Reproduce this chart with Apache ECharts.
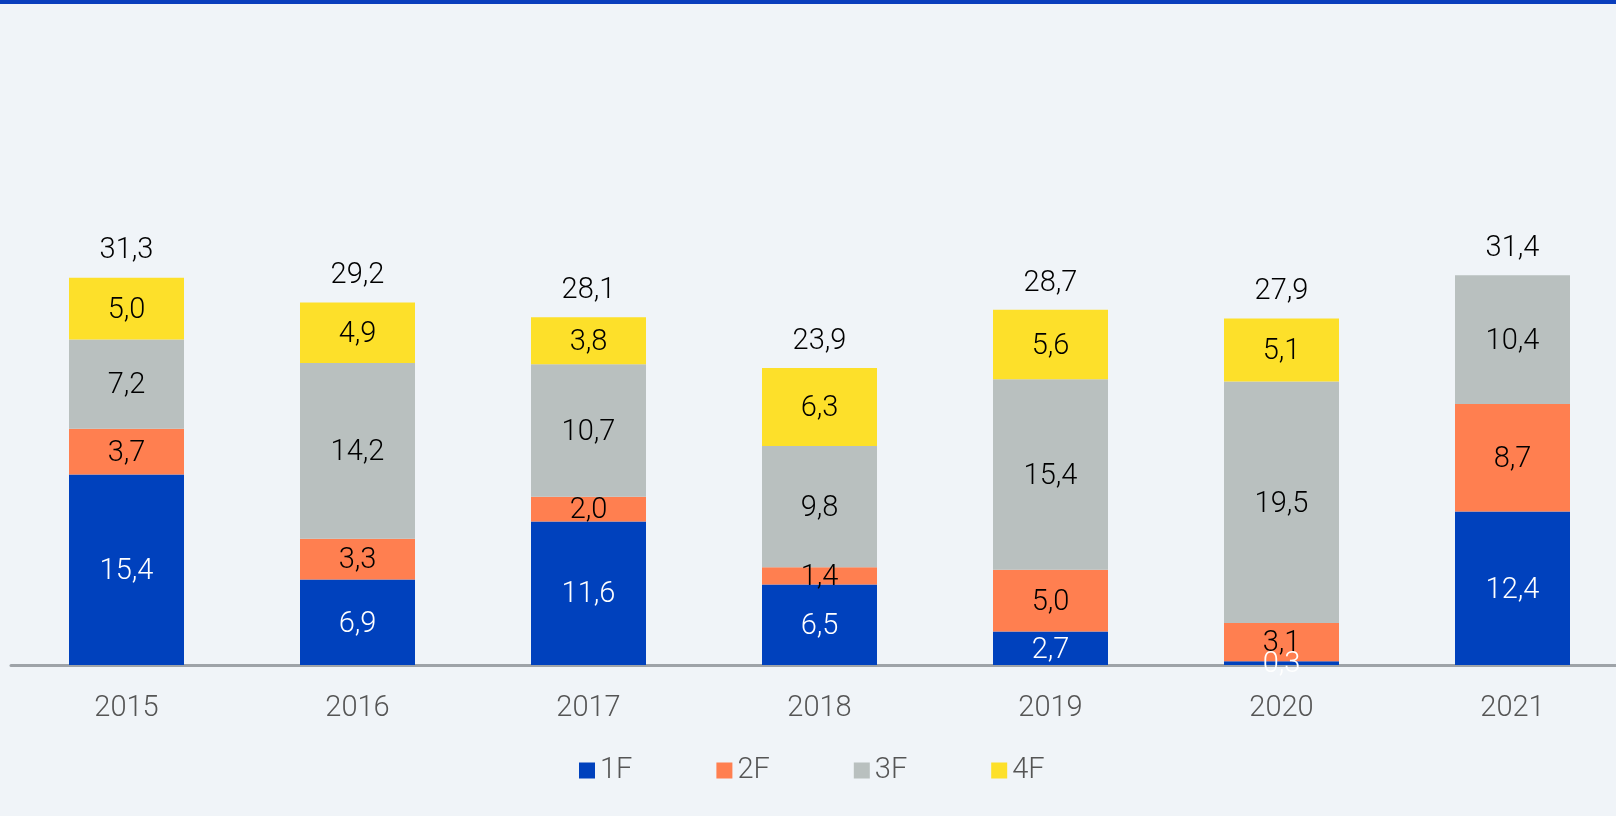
<!DOCTYPE html>
<html>
<head>
<meta charset="utf-8">
<script src="https://cdn.jsdelivr.net/npm/echarts@6/dist/echarts.min.js"></script>
<style>
  html, body { margin: 0; padding: 0; background: #f0f4f8; overflow: hidden; }
  /* axis runs past the right edge in the original, so the canvas is a bit wider */
  #chart { width: 1628px; height: 816px; }
</style>
</head>
<body>
<div id="chart"></div>
<script>
var years = ['2015', '2016', '2017', '2018', '2019', '2020', '2021']
var f1 = [15.4, 6.9, 11.6, 6.5, 2.7, 0.3, 12.4]
var f2 = [3.7, 3.3, 2.0, 1.4, 5.0, 3.1, 8.7]
var f3 = [7.2, 14.2, 10.7, 9.8, 15.4, 19.5, 10.4]
var f4 = [5.0, 4.9, 3.8, 6.3, 5.6, 5.1, null]
var totals = [31.3, 29.2, 28.1, 23.9, 28.7, 27.9, 31.4]

var fontName = 'Roboto'
var fmt = function (v) {
  return v.toFixed(1).replace('.', ',')
}

function makeSeries(name, data, color, labelColor) {
  return {
    name: name,
    type: 'bar',
    stack: 'all',
    barWidth: 115,
    itemStyle: { color: color },
    label: {
      show: true,
      position: 'inside',
      offset: [0, 2],
      color: labelColor,
      fontFamily: fontName,
      fontWeight: 300,
      fontSize: 29,
      formatter: function (p) { return fmt(p.value) }
    },
    data: data
  }
}

var myChart = echarts.init(document.getElementById('chart'))
var option = {
  backgroundColor: '#f0f4f8',
  animation: false,
  graphic: [{
    type: 'rect',
    left: 0,
    top: 0,
    shape: { width: 1628, height: 4 },
    style: { fill: '#0a3ebd' }
  }],
  grid: {
    left: 11,
    right: 0,
    top: 170,
    bottom: 151
  },
  legend: {
    data: ['1F', '2F', '3F', '4F'],
    left: 574,
    top: 751,
    icon: 'rect',
    itemWidth: 16,
    itemHeight: 16,
    itemGap: 84,
    textStyle: {
      color: '#555',
      fontFamily: fontName,
      fontWeight: 300,
      fontSize: 29,
      width: 47
    }
  },
  xAxis: {
    type: 'category',
    data: years,
    axisTick: { show: false },
    axisLine: { lineStyle: { color: '#9ea3a8', width: 3 } },
    axisLabel: {
      color: '#555',
      fontFamily: fontName,
      fontWeight: 300,
      fontSize: 29,
      margin: 29
    }
  },
  yAxis: {
    type: 'value',
    min: 0,
    max: 40,
    show: false,
    splitLine: { show: false }
  },
  series: [
    makeSeries('1F', f1, '#0041bd', '#fff'),
    makeSeries('2F', f2, '#ff7f50', '#000'),
    makeSeries('3F', f3, '#b9c0bf', '#000'),
    makeSeries('4F', f4, '#fde02a', '#000'),
    {
      name: 'total',
      type: 'bar',
      stack: 'all',
      barWidth: 115,
      itemStyle: { color: 'transparent' },
      label: {
        show: true,
        position: 'top',
        distance: 12,
        color: '#000',
        fontFamily: fontName,
        fontWeight: 300,
        fontSize: 29,
        formatter: function (p) { return fmt(totals[p.dataIndex]) }
      },
      data: years.map(function () { return 0 })
    }
  ]
}
myChart.setOption(option)
</script>
</body>
</html>
